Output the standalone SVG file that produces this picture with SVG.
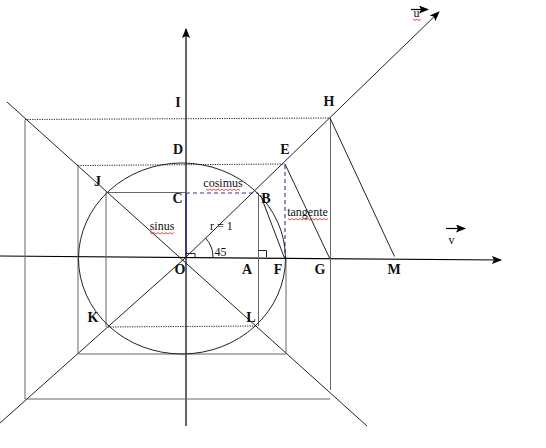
<svg xmlns="http://www.w3.org/2000/svg" width="546" height="448" viewBox="0 0 546 448">
<style>
.lbl{font-family:"Liberation Serif",serif;font-weight:bold;font-size:14px;fill:#111;text-anchor:middle}
.txt{font-family:"Liberation Serif",serif;font-size:12px;fill:#111}
.ax{stroke:#000;stroke-width:1.2;fill:none}
.gr{stroke:#666;stroke-width:1;fill:none}
.dk{stroke:#222;stroke-width:1;fill:none}
.dot{stroke:#222;stroke-width:1;stroke-dasharray:1.2,1.2;fill:none}
.bl{stroke:#33339a;stroke-width:1.1;stroke-dasharray:4,3;fill:none}
.sq{stroke:#d22;stroke-width:0.8;fill:none}
</style>
<defs>
<marker id="ah" markerUnits="userSpaceOnUse" markerWidth="10" markerHeight="8" refX="9" refY="4" orient="auto">
<path d="M0,0 L10,4 L0,8 L2,4 Z" fill="#000"/>
</marker>
</defs>
<rect width="546" height="448" fill="#fff"/>
<g id="connectors">
<line class="ax" x1="0" y1="256" x2="501" y2="260" marker-end="url(#ah)"/>
<line class="ax" x1="186" y1="426" x2="186" y2="29" marker-end="url(#ah)"/>
<line x1="186" y1="193" x2="186" y2="256.5" stroke="#22228a" stroke-width="1.3"/>
<polyline class="dk" points="0,423 184,259 439,12" marker-end="url(#ah)"/>
<line class="dk" x1="7" y1="102" x2="367" y2="426"/>
<line class="dot" x1="25" y1="119.5" x2="330" y2="118"/>
<polyline class="gr" points="25,120 25,399 330,399"/>
<line class="gr" x1="330.5" y1="118" x2="330.5" y2="390"/>
<line class="dot" x1="78" y1="165.5" x2="285" y2="164"/>
<polyline class="gr" points="78,165.5 78,354 286,354 286,257"/>
<line class="bl" x1="285" y1="165" x2="285" y2="257"/>
<polyline class="gr" points="186,192.5 106,192.5 106,327"/>
<line class="gr" x1="258.5" y1="193" x2="258.5" y2="326"/>
<line class="dot" x1="108" y1="327" x2="257" y2="326"/>
<line class="bl" x1="186" y1="193" x2="258" y2="193"/>
<ellipse class="dk" cx="182" cy="258.5" rx="103.5" ry="95.5"/>
<line class="dk" x1="260.5" y1="195" x2="284.5" y2="258"/>
<line class="dk" x1="285" y1="164" x2="330" y2="259"/>
<line class="dk" x1="330" y1="118" x2="394.5" y2="256.5"/>
<path class="dk" d="M186,253.5 H195 V257"/>
<path class="dk" d="M258.5,250.5 H266.5 V257"/>
<path class="dk" d="M205.5,238 A28,28 0 0 1 213,257.5"/>
<line class="ax" x1="411" y1="9.5" x2="428" y2="9.5" stroke-width="1.3" marker-end="url(#ah)"/>
<line class="ax" x1="446" y1="228.5" x2="465" y2="228.5" stroke-width="1.3" marker-end="url(#ah)"/>
</g>
<g id="node-I"><text class="lbl" x="178" y="106.5">I</text></g>
<g id="node-H"><text class="lbl" x="329" y="106">H</text></g>
<g id="node-D"><text class="lbl" x="178" y="154">D</text></g>
<g id="node-E"><text class="lbl" x="285" y="154">E</text></g>
<g id="node-C"><text class="lbl" x="177.5" y="203">C</text></g>
<g id="node-B"><text class="lbl" x="266" y="203">B</text></g>
<g id="node-J"><text class="lbl" x="97.5" y="186">J</text></g>
<g id="node-O"><text class="lbl" x="180" y="274">O</text></g>
<g id="node-A"><text class="lbl" x="247" y="274">A</text></g>
<g id="node-F"><text class="lbl" x="278" y="274">F</text></g>
<g id="node-G"><text class="lbl" x="320" y="274">G</text></g>
<g id="node-M"><text class="lbl" x="394" y="274">M</text></g>
<g id="node-K"><text class="lbl" x="93" y="322">K</text></g>
<g id="node-L"><text class="lbl" x="251" y="322">L</text></g>
<g id="texts">
<text class="txt" x="223" y="186.5" text-anchor="middle" font-size="11.5">cosimus</text>
<text class="txt" x="162" y="230" text-anchor="middle">sinus</text>
<text class="txt" x="221.5" y="230" text-anchor="middle">r = 1</text>
<text class="txt" x="214.5" y="256">45</text>
<text class="txt" x="307.5" y="215.5" text-anchor="middle" font-size="11.5">tangente</text>
<text class="txt" x="451.5" y="244" text-anchor="middle" font-size="11">v</text>
<text class="txt" x="416.5" y="17" text-anchor="middle" font-size="11">u</text>
<path class="sq" d="M206,189 l2,1.5 l2,-1.5 l2,1.5 l2,-1.5 l2,1.5 l2,-1.5 l2,1.5 l2,-1.5 l2,1.5 l2,-1.5 l2,1.5 l2,-1.5 l2,1.5 l2,-1.5 l2,1.5 l2,-1.5 l2,1.5"/>
<path class="sq" d="M150,232.5 l2,1.5 l2,-1.5 l2,1.5 l2,-1.5 l2,1.5 l2,-1.5 l2,1.5 l2,-1.5 l2,1.5 l2,-1.5 l2,1.5 l2,-1.5"/>
<path class="sq" d="M288,218.5 l2,1.5 l2,-1.5 l2,1.5 l2,-1.5 l2,1.5 l2,-1.5 l2,1.5 l2,-1.5 l2,1.5 l2,-1.5 l2,1.5 l2,-1.5 l2,1.5 l2,-1.5 l2,1.5 l2,-1.5 l2,1.5 l2,-1.5 l2,1.5 l2,-1.5"/>
<path class="sq" d="M413,19 l2,1.5 l2,-1.5 l2,1.5 l2,-1.5"/>
</g>
</svg>
